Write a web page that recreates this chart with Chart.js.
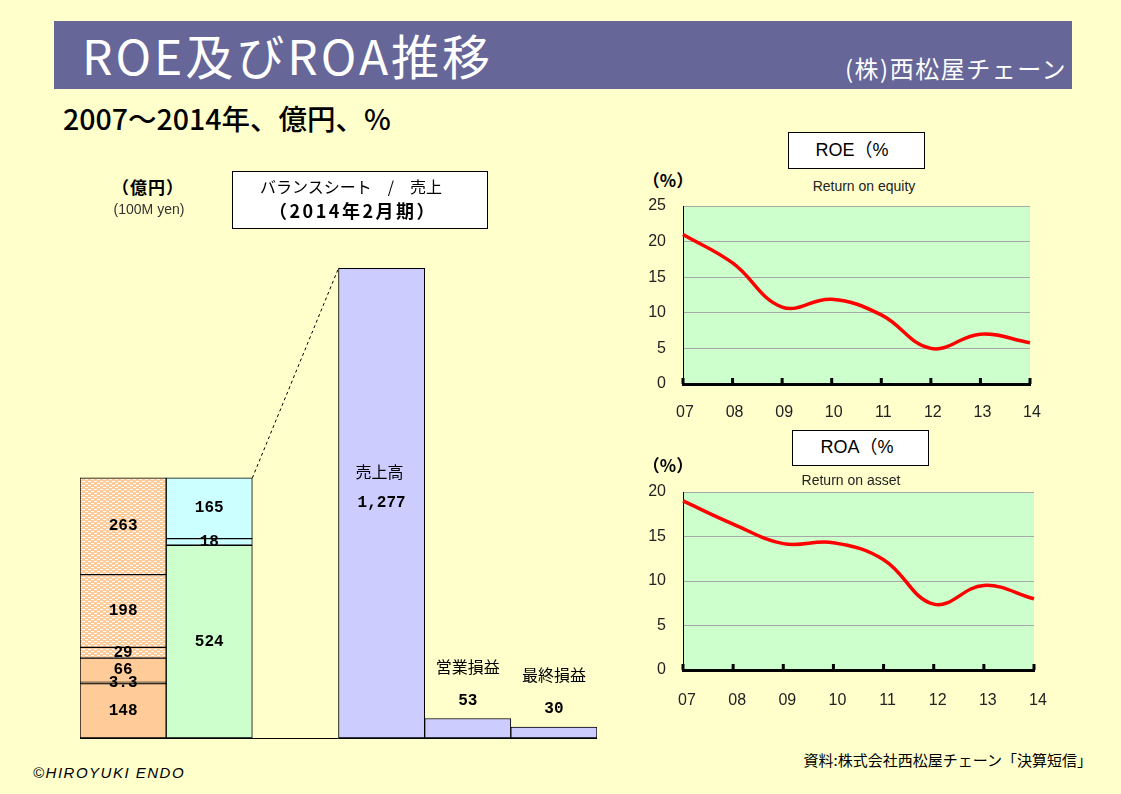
<!DOCTYPE html>
<html><head><meta charset="utf-8">
<script src="https://cdn.jsdelivr.net/npm/chart.js@4/dist/chart.umd.min.js"></script>
<style>
body{margin:0;background:#FFFFCC;}
#page{position:relative;width:1121px;height:794px;background:#FFFFCC;overflow:hidden;font-family:'Noto Sans CJK JP','Liberation Sans',sans-serif;}
.abs{position:absolute;white-space:nowrap;}
canvas{position:absolute;}
</style></head><body><div id="page">
<div class="abs" style="left:54px;top:21px;width:1018px;height:68px;background:#666699"></div>
<div class="abs" style="left:232px;top:171px;width:254px;height:56px;background:#fff;border:1px solid #000"></div>
<div class="abs" style="left:788px;top:132px;width:135px;height:35px;background:#fff;border:1px solid #000"></div>
<div class="abs" style="left:792px;top:430px;width:135px;height:34px;background:#fff;border:1px solid #000"></div>
<canvas id="bs" width="537" height="527" style="left:70px;top:213px"></canvas>
<canvas id="roe" width="399" height="224" style="left:643px;top:196px"></canvas>
<canvas id="roa" width="411" height="224" style="left:643px;top:482px"></canvas>
</div>
<script>
// ---- data ----
const bsCategories = ['資産', '負債・純資産', '', '売上高', '営業損益', '最終損益'];
const assetValues = [148, 3.3, 66, 29, 198, 263];
const liabilityValues = [524, 18, 165];
const plNames = ['売上高', '営業損益', '最終損益'];
const plValues = [1277, 53, 30];
const years = ['07', '08', '09', '10', '11', '12', '13', '14'];
const roeValues = [21.0, 17.0, 10.8, 11.9, 9.7, 5.0, 7.0, 5.8];
const roaValues = [19.0, 16.4, 14.2, 14.3, 12.4, 7.4, 9.5, 8.0];
const roeTicks = [0, 5, 10, 15, 20, 25];
const roaTicks = [0, 5, 10, 15, 20];

// ---- text helper ----
const page = document.getElementById('page');
function T(text, x, y, style, anchor) {
  const d = document.createElement('div');
  d.className = 'abs';
  d.textContent = text;
  d.style.cssText += 'left:' + x + 'px;top:' + y + 'px;line-height:1.2;' + (style || '');
  const tx = anchor === 'l' ? '0' : anchor === 'r' ? '-100%' : '-50%';
  d.style.transform = 'translate(' + tx + ',-50%)';
  page.appendChild(d);
}
T('ROE及びROA推移', 82, 55, 'font-size:48px;color:#fff;letter-spacing:3px;', 'l');
T('(株)西松屋チェーン', 1067, 68, 'font-size:24px;color:#fff;letter-spacing:1.5px;', 'r');
T('2007～2014年、億円、%', 63, 118, 'font-size:28.5px;color:#000;font-weight:500;', 'l');
T('（億円）', 148, 187, 'font-size:17px;font-weight:bold;color:#000;letter-spacing:1px;', 'c');
T('(100M yen)', 149, 209, 'font-size:14px;color:#333;font-family:"Liberation Sans";', 'c');
T('バランスシート　/　売上', 351, 187, 'font-size:16px;color:#000;', 'c');
T('（2014年2月期）', 353, 211, 'font-size:18px;font-weight:bold;color:#000;letter-spacing:2.5px;', 'c');
T('ROE（%', 852, 151, 'font-size:18px;color:#000;font-family:"Liberation Sans","Noto Sans CJK JP";', 'c');
T('ROA（%', 857, 448, 'font-size:18px;color:#000;font-family:"Liberation Sans","Noto Sans CJK JP";', 'c');
T('Return on equity', 864, 186, 'font-size:14px;color:#222;font-family:"Liberation Sans";', 'c');
T('Return on asset', 851, 480, 'font-size:14px;color:#222;font-family:"Liberation Sans";', 'c');
T('（%）', 668, 180, 'font-size:17px;font-weight:bold;color:#000;', 'c');
T('（%）', 668, 465, 'font-size:17px;font-weight:bold;color:#000;', 'c');
T('©HIROYUKI ENDO', 33, 773, 'font-size:15px;font-style:italic;color:#000;font-family:"Liberation Sans";letter-spacing:1.5px;', 'l');
T('資料:株式会社西松屋チェーン「決算短信」', 1092, 760, 'font-size:15px;color:#000;', 'r');

// ---- patterns ----
function dotPattern() {
  const c = document.createElement('canvas'); c.width = 6; c.height = 4;
  const g = c.getContext('2d');
  g.fillStyle = '#FFCC99'; g.fillRect(0, 0, 6, 4);
  g.fillStyle = '#FFFFFF';
  g.fillRect(0, 0, 3, 1); g.fillRect(3, 2, 3, 1);
  return g.createPattern(c, 'repeat');
}
const pat = dotPattern();

// ---- balance sheet / sales chart ----
const assetColors = ['#FFCC99', '#FFCC99', '#FFCC99', pat, pat, pat];
const liabColors = ['#CCFFCC', '#CCFFFF', '#CCFFFF'];
const datasets = [];
assetValues.forEach((v, i) => datasets.push({
  kind: 'bs', data: bsCategories.map((c, j) => j === 0 ? v : null),
  backgroundColor: assetColors[i]
}));
liabilityValues.forEach((v, i) => datasets.push({
  kind: 'bs', data: bsCategories.map((c, j) => j === 1 ? v : null),
  backgroundColor: liabColors[i]
}));
datasets.push({
  kind: 'pl', data: bsCategories.map((c, j) => j >= 3 ? plValues[j - 3] : null),
  backgroundColor: '#CCCCFF'
});
datasets.forEach(d => Object.assign(d, {
  borderColor: '#000', borderWidth: 1, borderSkipped: false,
  barPercentage: 1, categoryPercentage: 1, stack: 's'
}));

const fmt = v => v.toLocaleString('en-US');
const numFont = 'bold 16px "Liberation Mono", "DejaVu Sans Mono", monospace';
const jpFont = '16px "Noto Sans CJK JP", sans-serif';

const bsPlugin = {
  id: 'bsPlugin',
  afterDatasetsDraw(chart) {
    const ctx = chart.ctx, ca = chart.chartArea;
    ctx.save();
    ctx.strokeStyle = '#000'; ctx.lineWidth = 1;
    ctx.beginPath(); ctx.moveTo(ca.left, Math.round(ca.bottom) + 0.5); ctx.lineTo(ca.right, Math.round(ca.bottom) + 0.5); ctx.stroke();
    const topLiab = chart.getDatasetMeta(assetValues.length + liabilityValues.length - 1).data[1];
    const sales = chart.getDatasetMeta(datasets.length - 1).data[3];
    ctx.setLineDash([3, 3]);
    ctx.beginPath();
    ctx.moveTo(topLiab.x + topLiab.width / 2, topLiab.y);
    ctx.lineTo(sales.x - sales.width / 2, sales.y);
    ctx.stroke();
    ctx.setLineDash([]);
    ctx.fillStyle = '#000'; ctx.textAlign = 'center'; ctx.textBaseline = 'middle';
    chart.data.datasets.forEach((ds, di) => {
      const meta = chart.getDatasetMeta(di);
      meta.data.forEach((el, i) => {
        const v = ds.data[i];
        if (v == null) return;
        if (ds.kind === 'bs') {
          ctx.font = numFont;
          ctx.fillText(fmt(v), el.x, (el.y + el.base) / 2);
        } else {
          const name = plNames[i - 3];
          if (i === 3) {
            const cy = (el.y + el.base) / 2;
            ctx.font = numFont; ctx.fillText(fmt(v), el.x, cy);
            ctx.font = jpFont; ctx.fillText(name, el.x - 2, cy - 31);
          } else {
            ctx.font = numFont; ctx.fillText(fmt(v), el.x, el.y - 18);
            ctx.font = jpFont; ctx.fillText(name, el.x, el.y - 52);
          }
        }
      });
    });
    ctx.restore();
  }
};

new Chart(document.getElementById('bs'), {
  type: 'bar',
  data: { labels: bsCategories, datasets },
  options: {
    responsive: false, animation: false, devicePixelRatio: 1,
    layout: { padding: { left: 10, right: 10, top: 10, bottom: 2 } },
    plugins: { legend: { display: false }, tooltip: { enabled: false } },
    scales: {
      x: { stacked: true, display: false },
      y: { stacked: true, display: false, min: 0, max: 1400 }
    }
  },
  plugins: [bsPlugin]
});

// ---- line charts ----
const areaPlugin = {
  id: 'area',
  beforeDraw(chart) {
    const ca = chart.chartArea, ctx = chart.ctx;
    ctx.save(); ctx.fillStyle = '#CCFFCC';
    ctx.fillRect(ca.left, ca.top, ca.right - ca.left, ca.bottom - ca.top);
    ctx.restore();
  },
  afterDraw(chart) {
    const ctx = chart.ctx, xs = chart.scales.x, b = chart.chartArea.bottom;
    ctx.save(); ctx.strokeStyle = '#000'; ctx.lineWidth = 3;
    xs.ticks.forEach((t, i) => {
      const x = xs.getPixelForTick(i);
      ctx.beginPath(); ctx.moveTo(x, b); ctx.lineTo(x, b - 6); ctx.stroke();
    });
    ctx.restore();
  }
};

function lineChart(id, values, ticks, labelGap, labelOffset, rightPad) {
  const max = ticks[ticks.length - 1];
  new Chart(document.getElementById(id), {
    type: 'line',
    data: { labels: years, datasets: [{
      data: values, borderColor: '#FF0000', borderWidth: 3.5, tension: 0.4,
      pointRadius: 0, fill: false, clip: 4
    }] },
    options: {
      responsive: false, animation: false, devicePixelRatio: 1,
      layout: { padding: { left: 0, right: rightPad, top: 10, bottom: 0 } },
      plugins: { legend: { display: false }, tooltip: { enabled: false } },
      scales: {
        x: {
          offset: false,
          grid: { drawOnChartArea: false, drawTicks: true, tickLength: labelGap, tickColor: 'rgba(0,0,0,0)' },
          border: { color: '#000', width: 3 },
          ticks: { color: '#222', font: { family: 'Liberation Sans', size: 16 }, padding: 0, labelOffset: labelOffset, maxRotation: 0, autoSkip: false },
          afterFit(s) { s.height = 36; }
        },
        y: {
          min: 0, max: max,
          afterBuildTicks(s) { s.ticks = ticks.map(v => ({ value: v })); },
          grid: { color: c => (c.tick && c.tick.value === 0) ? 'rgba(0,0,0,0)' : '#A8A8A8', drawTicks: true, tickLength: 17, tickColor: 'rgba(0,0,0,0)', lineWidth: 1 },
          border: { color: '#000', width: 1 },
          ticks: { color: '#222', font: { family: 'Liberation Sans', size: 16 }, padding: 0 },
          afterFit(s) { s.width = 40; }
        }
      }
    },
    plugins: [areaPlugin]
  });
}
lineChart('roe', roeValues, roeTicks, 19, 2, 12);
lineChart('roa', roaValues, roaTicks, 21, 4, 20);
</script>
</body></html>
